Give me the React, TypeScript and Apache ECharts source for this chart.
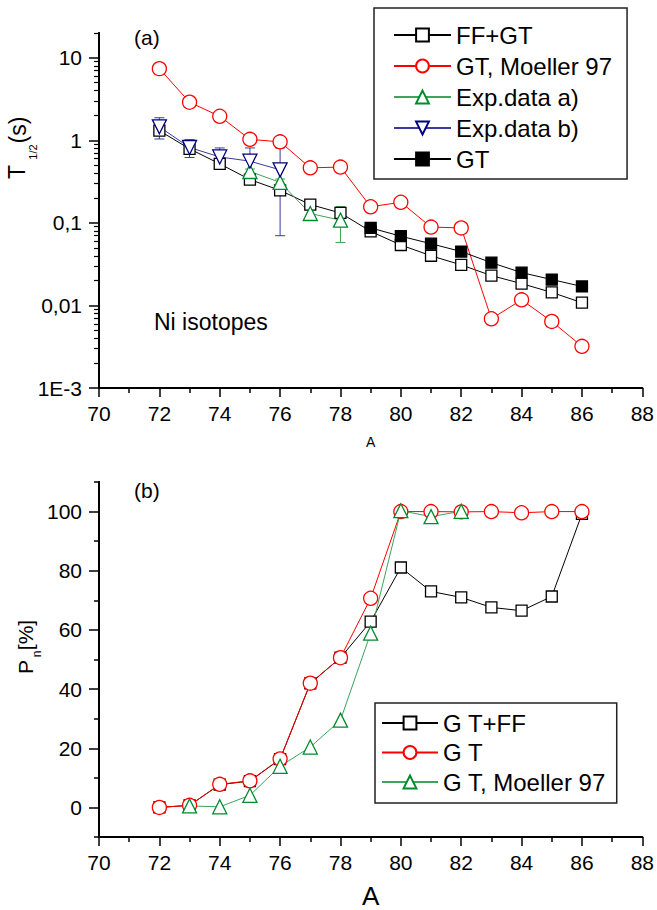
import React, { useEffect, useRef } from 'react';
import * as echarts from 'echarts';

// ---------- Panel (a): half-lives ----------
const A_TOP = [72, 73, 74, 75, 76, 77, 78, 79, 80, 81, 82, 83, 84, 85, 86];
const FF_GT = [1.31, 0.79, 0.52, 0.335, 0.248, 0.167, 0.132, 0.079, 0.054, 0.04, 0.031, 0.023, 0.0184, 0.0144, 0.0108];
const GT_MOELLER = [7.4, 2.9, 1.96, 1.03, 0.96, 0.465, 0.475, 0.157, 0.178, 0.089, 0.087, 0.0069, 0.0117, 0.0064, 0.0032];
const A_EXP_A = [75, 76, 77, 78];
const EXP_A = [0.42, 0.31, 0.13, 0.108];
const EXP_A_ERR = [0.03, 0.03, 0.02, 0.05];
const A_EXP_B = [72, 73, 74, 75, 76];
const EXP_B = [1.46, 0.82, 0.63, 0.56, 0.44];
const EXP_B_ERR = [0.42, 0.2, 0.18, 0.25, 0.37];
const A_GT = [79, 80, 81, 82, 83, 84, 85, 86];
const GT_TOP = [0.087, 0.069, 0.056, 0.045, 0.033, 0.025, 0.0206, 0.017];

const Y_TOP_TICKS = [0.001, 0.01, 0.1, 1, 10];
const Y_TOP_LABELS = ['1E-3', '0,01', '0,1', '1', '10'];
const LOG_MINOR_MULT = [2, 3, 4, 5, 6, 7, 8, 9];
const LOG_DECADES = [0.001, 0.01, 0.1, 1, 10];

// ---------- Panel (b): Pn ----------
const A_BOT = [72, 73, 74, 75, 76, 77, 78, 79, 80, 81, 82, 83, 84, 85, 86];
const GTFF_PN = [0, 0.7, 7.7, 8.9, 16.3, 41.9, 50.6, 62.8, 81.1, 73.0, 71.0, 67.6, 66.5, 71.3, 99.2];
const GT_PN = [0, 0.7, 7.8, 9.0, 16.4, 42.0, 50.6, 70.7, 100, 100, 99.9, 100, 99.6, 100, 100];
const A_MOELLER_PN = [73, 74, 75, 76, 77, 78, 79, 80, 81, 82];
const MOELLER_PN = [0.5, 0.2, 4.1, 13.9, 20.4, 29.5, 58.9, 100.3, 98.3, 100.1];

const Y_BOT_MAJOR = [0, 20, 40, 60, 80, 100];
const Y_BOT_MINOR = [-10, 10, 30, 50, 70, 90, 110];

const FONT = '"Liberation Sans", Arial, Helvetica, sans-serif';
const RED = '#ff0000';
const GREEN_M = '#008a2e';
const GREEN_L = '#3da35d';
const NAVY_M = '#000080';
const NAVY_L = '#3a3aa0';
const DOWN_TRI = 'path://M0,0L20,0L10,18Z';

const pairs = (xs: number[], ys: number[]) => xs.map((x, i) => [x, ys[i]]);

const errBars = (xs: number[], ys: number[], es: number[]) =>
  xs.map((x, i) => [x, ys[i] - es[i], ys[i] + es[i]]);

const errSeries = (name: string, data: number[][], color: string) => ({
  type: 'custom',
  name,
  xAxisIndex: 0,
  yAxisIndex: 0,
  silent: true,
  data,
  encode: { x: 0, y: [1, 2] },
  renderItem: (params: any, api: any) => {
    const x = api.value(0);
    const lo = api.coord([x, api.value(1)]);
    const hi = api.coord([x, api.value(2)]);
    const w = 5;
    const st = { stroke: color, lineWidth: 1 };
    return {
      type: 'group',
      children: [
        { type: 'line', shape: { x1: hi[0], y1: hi[1], x2: lo[0], y2: lo[1] }, style: st },
        { type: 'line', shape: { x1: hi[0] - w, y1: hi[1], x2: hi[0] + w, y2: hi[1] }, style: st },
        { type: 'line', shape: { x1: lo[0] - w, y1: lo[1], x2: lo[0] + w, y2: lo[1] }, style: st },
      ],
    };
  },
});

const lineSeries = (
  name: string,
  data: number[][],
  grid: number,
  symbol: string,
  size: number,
  lineColor: string,
  markColor: string,
  fill: string
) => ({
  type: 'line',
  name,
  xAxisIndex: grid,
  yAxisIndex: grid === 0 ? 0 : 2,
  data,
  symbol,
  symbolSize: size,
  showAllSymbol: true,
  lineStyle: { color: lineColor, width: 1 },
  itemStyle: { color: fill, borderColor: markColor, borderWidth: 1.3 },
  emphasis: { disabled: true },
});

const xAxisCfg = (gridIndex: number, name: string, nameSize: number, nameGap: number) => ({
  type: 'value',
  gridIndex,
  min: 70,
  max: 88,
  interval: 2,
  name,
  nameLocation: 'middle',
  nameGap,
  nameTextStyle: { fontFamily: FONT, fontSize: nameSize, color: '#000' },
  axisLine: { onZero: false, lineStyle: { color: '#000', width: 2 } },
  axisTick: { show: true, length: 9, lineStyle: { color: '#000', width: 1.5 } },
  minorTick: { show: true, splitNumber: 2, length: 5, lineStyle: { color: '#000', width: 1.5 } },
  axisLabel: { fontFamily: FONT, fontSize: 21, color: '#000', margin: 15 },
  splitLine: { show: false },
});

export default function App() {
  const ref = useRef<HTMLDivElement>(null);

  useEffect(() => {
    if (!ref.current) return;
    const chart = echarts.init(ref.current, undefined, { renderer: 'svg' });

    const logMinor: number[] = [];
    LOG_DECADES.forEach((d) => LOG_MINOR_MULT.forEach((m) => logMinor.push(d * m)));

    const option: any = {
      animation: false,
      backgroundColor: '#fff',
      grid: [
        { left: 99, top: 33, width: 545, height: 355 },
        { left: 99, top: 482, width: 545, height: 355 },
      ],
      xAxis: [xAxisCfg(0, 'A', 14, 47), xAxisCfg(1, 'A', 26, 46)],
      yAxis: [
        {
          type: 'log',
          logBase: 10,
          gridIndex: 0,
          position: 'left',
          min: 0.001,
          max: 20,
          axisLine: { show: true, onZero: false, lineStyle: { color: '#000', width: 2 } },
          axisTick: { show: true, length: 10, customValues: Y_TOP_TICKS, lineStyle: { color: '#000', width: 1.5 } },
          axisLabel: {
            fontFamily: FONT,
            fontSize: 21,
            color: '#000',
            margin: 17,
            showMaxLabel: false,
            formatter: (v: number) => {
              const lg = Math.log10(v);
              const k = Math.round(lg);
              if (Math.abs(lg - k) > 1e-6) return '';
              return Y_TOP_LABELS[k + 3] ?? '';
            },
          },
          splitLine: { show: false },
        },
        {
          type: 'log',
          logBase: 10,
          gridIndex: 0,
          position: 'left',
          min: 0.001,
          max: 20,
          axisLine: { show: true, onZero: false, lineStyle: { color: '#000', width: 2 } },
          axisTick: { show: true, length: 5, customValues: logMinor, lineStyle: { color: '#000', width: 1.2 } },
          axisLabel: { show: false },
          splitLine: { show: false },
        },
        {
          type: 'value',
          gridIndex: 1,
          position: 'left',
          min: -10,
          max: 110,
          interval: 10,
          axisLine: { show: true, onZero: false, lineStyle: { color: '#000', width: 2 } },
          axisTick: { show: true, length: 10, customValues: Y_BOT_MAJOR, lineStyle: { color: '#000', width: 1.5 } },
          axisLabel: { customValues: Y_BOT_MAJOR, fontFamily: FONT, fontSize: 21, color: '#000', margin: 17 },
          splitLine: { show: false },
        },
        {
          type: 'value',
          gridIndex: 1,
          position: 'left',
          min: -10,
          max: 110,
          interval: 10,
          axisLine: { show: true, onZero: false, lineStyle: { color: '#000', width: 2 } },
          axisTick: { show: true, length: 5, customValues: Y_BOT_MINOR, lineStyle: { color: '#000', width: 1.5 } },
          axisLabel: { show: false },
          splitLine: { show: false },
        },
      ],
      legend: [
        {
          orient: 'vertical',
          left: 374,
          top: 8,
          data: ['FF+GT', 'GT, Moeller 97', 'Exp.data a)', 'Exp.data b)', 'GT'],
          itemWidth: 57,
          itemHeight: 16,
          itemGap: 7,
          padding: [15, 15, 8, 19],
          borderColor: '#222',
          borderWidth: 1.5,
          backgroundColor: '#fff',
          selectedMode: false,
          textStyle: { fontFamily: FONT, fontSize: 24, lineHeight: 24, color: '#000' },
        },
        {
          orient: 'vertical',
          left: 375,
          top: 703,
          data: ['G T+FF', 'G T', 'G T, Moeller 97'],
          itemWidth: 56,
          itemHeight: 16,
          itemGap: 5.5,
          padding: [8, 11, 9, 6],
          borderColor: '#222',
          borderWidth: 1.5,
          backgroundColor: '#fff',
          selectedMode: false,
          textStyle: { fontFamily: FONT, fontSize: 24, lineHeight: 24, color: '#000' },
        },
      ],
      graphic: [
        { type: 'text', x: 134, y: 37, style: { text: '(a)', font: `21px ${FONT}`, fill: '#000', verticalAlign: 'middle' } },
        { type: 'text', x: 134, y: 490, style: { text: '(b)', font: `21px ${FONT}`, fill: '#000', verticalAlign: 'middle' } },
        { type: 'text', x: 154, y: 322, style: { text: 'Ni isotopes', font: `23px ${FONT}`, fill: '#000', verticalAlign: 'middle' } },
        { type: 'text', x: 17, y: 172, rotation: Math.PI / 2, style: { text: 'T', font: `23px ${FONT}`, fill: '#000', align: 'center', verticalAlign: 'middle' } },
        { type: 'text', x: 33, y: 152, rotation: Math.PI / 2, style: { text: '1/2', font: `11px ${FONT}`, fill: '#000', align: 'center', verticalAlign: 'middle' } },
        { type: 'text', x: 18, y: 130, rotation: Math.PI / 2, style: { text: '(s)', font: `23px ${FONT}`, fill: '#000', align: 'center', verticalAlign: 'middle' } },
        { type: 'text', x: 25, y: 667, rotation: Math.PI / 2, style: { text: 'P', font: `21px ${FONT}`, fill: '#000', align: 'center', verticalAlign: 'middle' } },
        { type: 'text', x: 37, y: 654, rotation: Math.PI / 2, style: { text: 'n', font: `12px ${FONT}`, fill: '#000', align: 'center', verticalAlign: 'middle' } },
        { type: 'text', x: 25, y: 635, rotation: Math.PI / 2, style: { text: '[%]', font: `21px ${FONT}`, fill: '#000', align: 'center', verticalAlign: 'middle' } },
      ],
      series: [
        errSeries('errB', errBars(A_EXP_B, EXP_B, EXP_B_ERR), NAVY_L),
        errSeries('errA', errBars(A_EXP_A, EXP_A, EXP_A_ERR), GREEN_L),
        lineSeries('FF+GT', pairs(A_TOP, FF_GT), 0, 'rect', 11, '#000', '#000', '#fff'),
        lineSeries('GT, Moeller 97', pairs(A_TOP, GT_MOELLER), 0, 'circle', 14, RED, RED, '#fff'),
        lineSeries('Exp.data a)', pairs(A_EXP_A, EXP_A), 0, 'triangle', 14, GREEN_L, GREEN_M, '#fff'),
        lineSeries('Exp.data b)', pairs(A_EXP_B, EXP_B), 0, DOWN_TRI, 14, NAVY_L, NAVY_M, '#fff'),
        lineSeries('GT', pairs(A_GT, GT_TOP), 0, 'rect', 11, '#000', '#000', '#000'),
        lineSeries('G T+FF', pairs(A_BOT, GTFF_PN), 1, 'rect', 11, '#000', '#000', '#fff'),
        lineSeries('G T', pairs(A_BOT, GT_PN), 1, 'circle', 14, RED, RED, '#fff'),
        lineSeries('G T, Moeller 97', pairs(A_MOELLER_PN, MOELLER_PN), 1, 'triangle', 14, GREEN_L, GREEN_M, '#fff'),
      ],
    };

    chart.setOption(option);
    return () => chart.dispose();
  }, []);

  return (
    <div
      ref={ref}
      style={{ position: 'fixed', left: 0, top: 0, width: 657, height: 910, background: '#fff' }}
    />
  );
}
